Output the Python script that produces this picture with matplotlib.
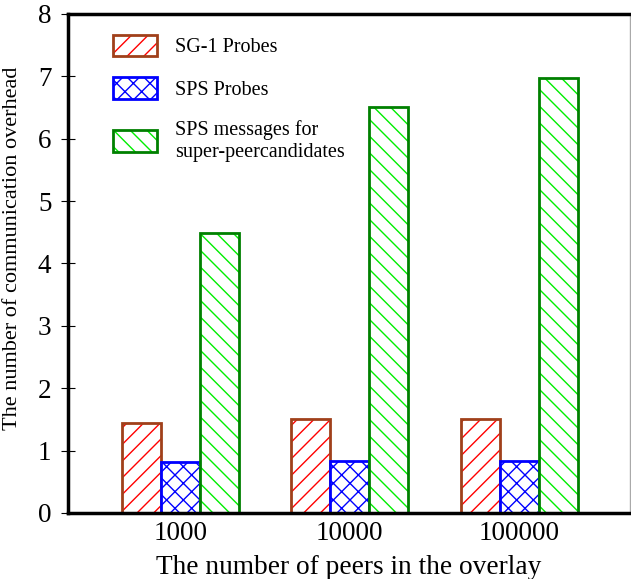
import numpy as np
import matplotlib
matplotlib.use("Agg")
import matplotlib.pyplot as plt
from matplotlib.legend_handler import HandlerTuple

# values
peers = ["1000", "10000", "100000"]
sg1_probes = [1.44, 1.5, 1.5]
sps_probes = [0.82, 0.83, 0.83]
sps_messages = [4.49, 6.5, 6.97]

series = [
    ("SG-1 Probes", sg1_probes, "#ff0000", "#a0401a", "//"),
    ("SPS Probes", sps_probes, "#0000ff", "#0000ff", "xx"),
    ("SPS messages for\nsuper-peercandidates", sps_messages, "#00ee00", "#008000", "\\\\"),
]

plt.rcParams["font.family"] = ["Liberation Serif", "DejaVu Serif"]
plt.rcParams["hatch.linewidth"] = 1.0

fig = plt.figure(figsize=(6.31, 5.79), dpi=100)
ax = fig.add_axes([0.108, 0.114, 0.89, 0.862])

x = np.arange(len(peers))
width = 0.23
handles = []
labels = []
for i, (name, vals, hcol, ecol, hatch) in enumerate(series):
    pos = x + (i - 1) * width
    h = ax.bar(pos, vals, width, color="white", edgecolor=hcol, hatch=hatch, linewidth=0)
    o = ax.bar(pos, vals, width, fill=False, edgecolor=ecol, linewidth=2)
    handles.append((h[0], o[0]))
    labels.append(name)

ax.set_xlim(-0.66, 2.65)
ax.set_ylim(0, 8)
ax.set_xticks(x)
ax.set_xticklabels(peers)
ax.set_yticks(range(9))
ax.tick_params(axis="y", direction="inout", length=10, width=0.8, labelsize=19.5, pad=7)
ax.tick_params(axis="x", length=0, labelsize=19.5, pad=6)

ax.set_xlabel("The number of peers in the overlay", fontsize=19.7, labelpad=6)
ax.set_ylabel("The number of communication overhead", fontsize=16)
ax.yaxis.set_label_coords(-0.083, 0.53)

for s in ["left", "bottom", "top"]:
    ax.spines[s].set_linewidth(2.5)
ax.spines["right"].set_color("#aaaaaa")
ax.spines["right"].set_linewidth(1)

ax.legend(handles, labels, handler_map={tuple: HandlerTuple(ndivide=1)},
          loc="upper left", bbox_to_anchor=(0.047, 0.995), frameon=False,
          fontsize=14.5, handlelength=2.2, handleheight=1.3, labelspacing=1.0,
          handletextpad=0.9)

fig.savefig("out.png", dpi=100)
